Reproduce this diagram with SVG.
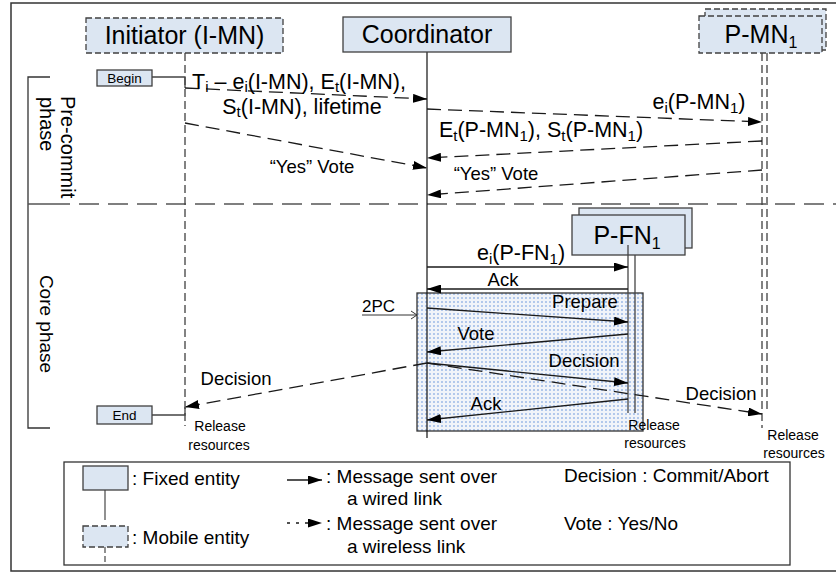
<svg xmlns="http://www.w3.org/2000/svg" width="836" height="574" viewBox="0 0 836 574">
  <defs>
    <style>
      .t { font-family: "Liberation Sans", Arial, sans-serif; fill: #000; }
      .head { font-size: 25px; text-anchor: middle; }
      .msg { font-size: 18.5px; text-anchor: middle; }
      .fml { font-size: 21.5px; text-anchor: middle; }
      .sub { font-size: 15px; }
      .small { font-size: 14px; text-anchor: middle; }
      .leg { font-size: 19px; }
      .fixed { fill: #dce6f2; stroke: #404040; stroke-width: 1.3; }
      .mobile { fill: #dce6f2; stroke: #404040; stroke-width: 1.3; stroke-dasharray: 6 3; }
      .wired { fill: none; stroke: #1a1a1a; stroke-width: 1.3; marker-end: url(#ah); }
      .wless { fill: none; stroke: #1a1a1a; stroke-width: 1.3; stroke-dasharray: 14 7; marker-end: url(#ah); }
      .lifed { fill: none; stroke: #404040; stroke-width: 1.3; stroke-dasharray: 8 4; }
      .frame { fill: none; stroke: #333; stroke-width: 1.5; }
    </style>
    <marker id="ah" markerUnits="userSpaceOnUse" markerWidth="14" markerHeight="9" refX="14" refY="4.5" orient="auto">
      <path d="M0,0 L14,4.5 L0,9 z" fill="#000"/>
    </marker>
    <marker id="open" markerUnits="userSpaceOnUse" markerWidth="8" markerHeight="10" refX="7" refY="5" orient="auto">
      <path d="M1,1 L7,5 L1,9" fill="none" stroke="#333" stroke-width="1"/>
    </marker>
    <pattern id="dots" width="4" height="4" patternUnits="userSpaceOnUse">
      <rect width="4" height="4" fill="#f1f4f9"/>
      <circle cx="2" cy="2" r="0.95" fill="#98b6e6"/>
    </pattern>
  </defs>

  <rect width="836" height="574" fill="#fff"/>
  <!-- outer frame -->
  <rect class="frame" x="11" y="3" width="828" height="568"/>

  <!-- phase brackets and separator -->
  <g id="phases">
    <polyline points="50,77 28,77 28,428 50,428" fill="none" stroke="#333" stroke-width="1.3"/>
    <line x1="28" y1="204" x2="50" y2="204" stroke="#555" stroke-width="1.5"/>
    <line x1="50" y1="204" x2="836" y2="204" stroke="#555" stroke-width="1.5" stroke-dasharray="20 9"/>
    <text class="t" font-size="20" transform="translate(61,96) rotate(90)">Pre-commit</text>
    <text class="t" font-size="20" transform="translate(40,97) rotate(90)">phase</text>
    <text class="t" font-size="19" text-anchor="middle" transform="translate(40,324) rotate(90)">Core phase</text>
  </g>

  <!-- 2PC region -->
  <g id="twopc">
    <rect x="417" y="293" width="226" height="138" fill="url(#dots)" stroke="#333" stroke-width="1.3"/>
    <line x1="362" y1="315" x2="417" y2="315" stroke="#333" stroke-width="1" marker-end="url(#open)"/>
    <text class="t" font-size="17" x="362" y="312">2PC</text>
  </g>

  <!-- Initiator -->
  <g id="initiator">
    <line class="lifed" x1="185" y1="53" x2="185" y2="426"/>
    <rect class="mobile" x="86" y="18" width="197" height="35"/>
    <text class="t head" x="184.5" y="44">Initiator (I-MN)</text>
    <rect class="fixed" x="97" y="70" width="55" height="16"/>
    <text class="t" font-size="13.5" text-anchor="middle" x="124.5" y="83">Begin</text>
    <polyline points="152,77 185,77 185,88" fill="none" stroke="#444" stroke-width="1.3"/>
    <rect class="fixed" x="97" y="406" width="55" height="18"/>
    <text class="t" font-size="13.5" text-anchor="middle" x="124.5" y="420">End</text>
    <polyline points="152,415 185,415 185,407" fill="none" stroke="#444" stroke-width="1.3"/>
    <text class="t small" x="220" y="431">Release</text>
    <text class="t small" x="219" y="450">resources</text>
  </g>

  <!-- Coordinator -->
  <g id="coordinator">
    <line x1="427" y1="52" x2="427" y2="438" stroke="#111" stroke-width="1.2"/>
    <rect class="fixed" x="343" y="17" width="168" height="35"/>
    <text class="t head" x="427" y="43">Coordinator</text>
  </g>

  <!-- P-MN1 -->
  <g id="pmn1">
    <rect class="mobile" x="705" y="9" width="121" height="41"/>
    <rect class="mobile" x="699" y="16" width="123" height="37"/>
    <text class="t head" x="761" y="43">P-MN<tspan font-size="16" dy="5">1</tspan></text>
    <line class="lifed" x1="762" y1="53" x2="762" y2="428"/>
    <line class="lifed" x1="767" y1="53" x2="767" y2="410"/>
    <text class="t small" x="793" y="440">Release</text>
    <text class="t small" x="794" y="458">resources</text>
  </g>

  <!-- P-FN1 -->
  <g id="pfn1">
    <rect class="fixed" x="579" y="208" width="113" height="40"/>
    <rect class="fixed" x="572" y="215" width="113" height="40"/>
    <text class="t head" x="627" y="244">P-FN<tspan font-size="16" dy="5">1</tspan></text>
    <line x1="628" y1="245" x2="628" y2="413" stroke="#444" stroke-width="1.3"/>
    <line x1="635" y1="255" x2="635" y2="413" stroke="#444" stroke-width="1.3"/>
    <text class="t small" x="654" y="430">Release</text>
    <text class="t small" x="655" y="448">resources</text>
  </g>

  <!-- messages -->
  <g id="connectors">
    <line class="wless" x1="185" y1="88" x2="427" y2="99"/>
    <line class="wless" x1="185" y1="123" x2="427" y2="168"/>
    <line class="wless" x1="427" y1="109" x2="762" y2="122"/>
    <line class="wless" x1="762" y1="141" x2="427" y2="158"/>
    <line class="wless" x1="762" y1="170" x2="427" y2="195"/>
    <line class="wired" x1="427" y1="267" x2="628" y2="267"/>
    <line class="wired" x1="628" y1="289" x2="427" y2="289"/>
    <line class="wired" x1="427" y1="308" x2="628" y2="322"/>
    <line class="wired" x1="628" y1="334" x2="427" y2="352"/>
    <line class="wired" x1="427" y1="363" x2="628" y2="383"/>
    <line class="wless" x1="427" y1="363" x2="762" y2="414"/>
    <line class="wless" x1="427" y1="363" x2="185" y2="407"/>
    <line class="wired" x1="628" y1="399" x2="427" y2="420"/>
  </g>

  <!-- message labels -->
  <g id="labels">
    <text class="t fml" x="299" y="89">T<tspan class="sub" dy="3">i</tspan><tspan dy="-3"> – e</tspan><tspan class="sub" dy="3">i</tspan><tspan dy="-3">(I-MN), E</tspan><tspan class="sub" dy="3">t</tspan><tspan dy="-3">(I-MN),</tspan></text>
    <text class="t fml" x="302" y="114">S<tspan class="sub" dy="3">t</tspan><tspan dy="-3">(I-MN), lifetime</tspan></text>
    <text class="t msg" x="312" y="173">“Yes” Vote</text>
    <text class="t fml" x="699" y="109">e<tspan class="sub" dy="4">i</tspan><tspan dy="-4">(P-MN</tspan><tspan class="sub" dy="4">1</tspan><tspan dy="-4">)</tspan></text>
    <text class="t fml" x="541" y="137">E<tspan class="sub" dy="4">t</tspan><tspan dy="-4">(P-MN</tspan><tspan class="sub" dy="4">1</tspan><tspan dy="-4">), S</tspan><tspan class="sub" dy="4">t</tspan><tspan dy="-4">(P-MN</tspan><tspan class="sub" dy="4">1</tspan><tspan dy="-4">)</tspan></text>
    <text class="t msg" x="496" y="180">“Yes” Vote</text>
    <text class="t fml" x="521" y="260">e<tspan class="sub" dy="4">i</tspan><tspan dy="-4">(P-FN</tspan><tspan class="sub" dy="4">1</tspan><tspan dy="-4">)</tspan></text>
    <text class="t msg" x="503" y="286">Ack</text>
    <text class="t msg" x="585" y="308">Prepare</text>
    <text class="t msg" x="476" y="340">Vote</text>
    <text class="t msg" x="584" y="367">Decision</text>
    <text class="t msg" x="721" y="400">Decision</text>
    <text class="t msg" x="486" y="410">Ack</text>
    <text class="t msg" x="236" y="385">Decision</text>
  </g>

  <!-- legend -->
  <g id="legend">
    <rect x="64" y="462" width="726" height="103" fill="#fff" stroke="#333" stroke-width="1.3"/>
    <line x1="105" y1="490" x2="105" y2="520" stroke="#555" stroke-width="1.3"/>
    <rect class="fixed" x="83" y="466" width="45" height="24"/>
    <line x1="105" y1="547" x2="105" y2="565" stroke="#555" stroke-width="1.3" stroke-dasharray="6 3"/>
    <rect class="mobile" x="83" y="526" width="45" height="21"/>
    <text class="t leg" x="132" y="485">: Fixed entity</text>
    <text class="t leg" x="132" y="544">: Mobile entity</text>
    <line class="wired" x1="287" y1="480" x2="322" y2="480"/>
    <line x1="287" y1="523" x2="322" y2="523" stroke="#1a1a1a" stroke-width="1.3" stroke-dasharray="3 6" marker-end="url(#ah)"/>
    <text class="t leg" x="326" y="483">: Message sent over</text>
    <text class="t leg" x="347" y="505">a wired link</text>
    <text class="t leg" x="326" y="530">: Message sent over</text>
    <text class="t leg" x="347" y="553">a wireless link</text>
    <text class="t leg" x="564" y="482">Decision : Commit/Abort</text>
    <text class="t leg" x="564" y="530">Vote : Yes/No</text>
  </g>
</svg>
